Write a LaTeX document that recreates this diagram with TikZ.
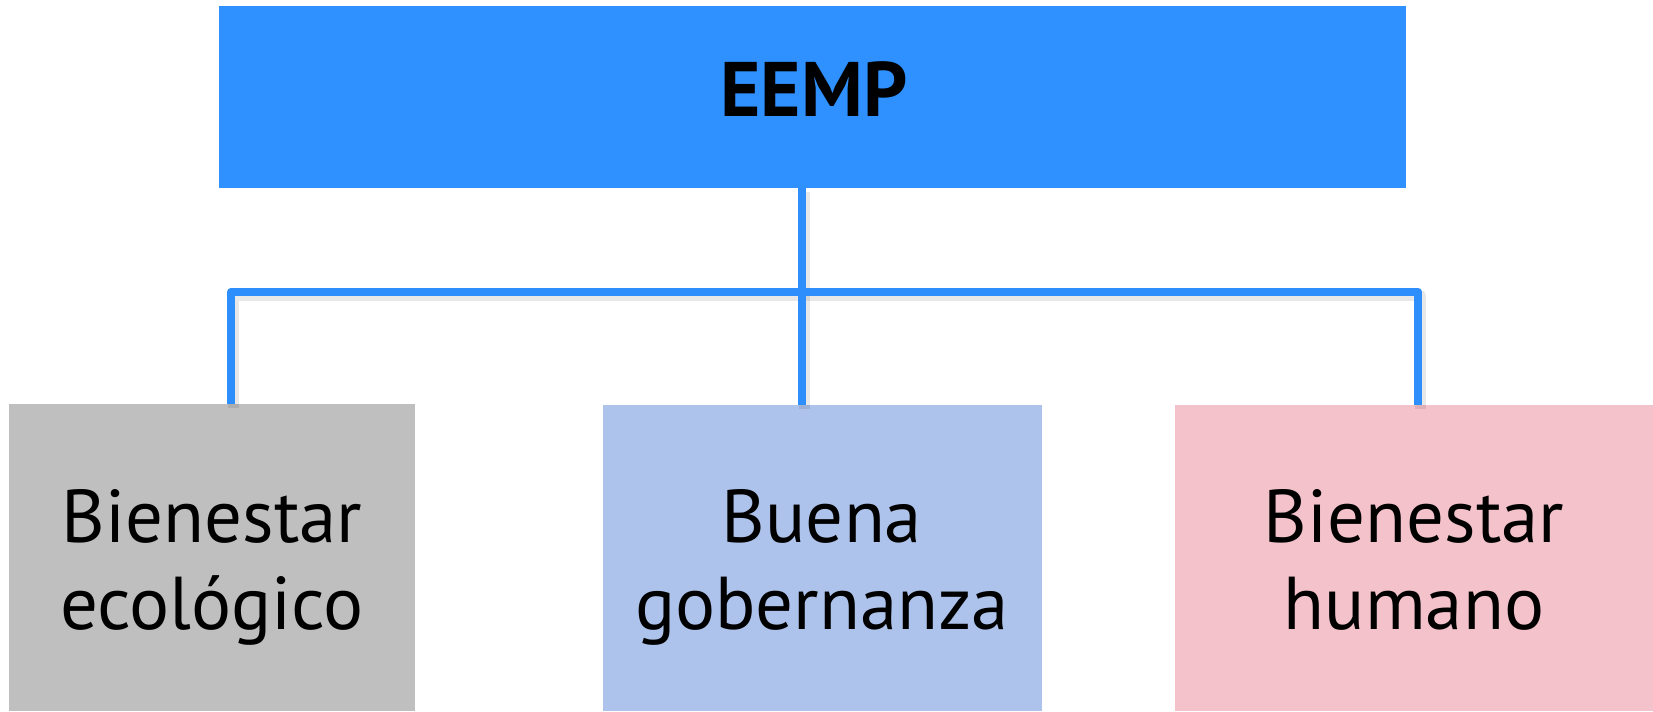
\documentclass[tikz,border=0pt]{standalone}
\usepackage{fontspec}
\setmainfont{PT Sans}
\definecolor{topblue}{RGB}{46,145,255}
\definecolor{linkblue}{RGB}{46,142,252}
\definecolor{boxgray}{RGB}{191,191,191}
\definecolor{boxlblue}{RGB}{174,195,235}
\definecolor{boxpink}{RGB}{243,194,202}
\begin{document}
\begin{tikzpicture}[x=0.1mm,y=-0.1mm,
  blk/.style={rectangle, draw=none, inner sep=0pt, outer sep=0pt},
  lbl/.style={align=center, inner sep=0pt, font=\fontsize{21.3}{24.5}\selectfont},
  link/.style={draw=linkblue, line width=2.45pt, line join=round, line cap=butt},
  linkshadow/.style={draw=black, opacity=0.09, line width=3.2pt, line join=round, line cap=butt}]
\useasboundingbox (0,0) rectangle (1653,711);
% boxes
\node[blk, fill=topblue, minimum width=118.7mm, minimum height=18.2mm] (top) at (812.5,97) {};
\node[blk, fill=boxgray, minimum width=40.6mm, minimum height=30.7mm] (left) at (212,557.5) {};
\node[blk, fill=boxlblue, minimum width=43.9mm, minimum height=30.6mm] (mid) at (822.5,558) {};
\node[blk, fill=boxpink, minimum width=47.8mm, minimum height=30.6mm] (right) at (1414,558) {};
% texts
\node[inner sep=0pt, anchor=base, font=\bfseries\fontsize{22}{24}\selectfont] (ttxt) at (814,116) {EEMP};
\node[lbl, anchor=base] (ltxt) at (212,629) {Bienestar\\ecológico};
\node[lbl, anchor=base] (mtxt) at (822,629) {Buena\\gobernanza};
\node[lbl, anchor=base] (rtxt) at (1414,629) {Bienestar\\humano};
% connectors
\coordinate (j) at (802,292);
\coordinate (jl) at (231,292);
\coordinate (jr) at (1418,292);
\begin{scope}[transform canvas={shift={(0.25mm,-0.35mm)}}]
\draw[linkshadow] (top.south -| j) -- (j) -- (mid.north -| j);
\draw[linkshadow] (left.north -| jl) -- (jl) -- (jr) -- (right.north -| jr);
\end{scope}
\draw[link] (top.south -| j) -- (j);
\draw[link] (left.north -| jl) -- (jl) -- (jr) -- (right.north -| jr);
\draw[link] (j) -- (mid.north -| j);
\end{tikzpicture}
\end{document}
